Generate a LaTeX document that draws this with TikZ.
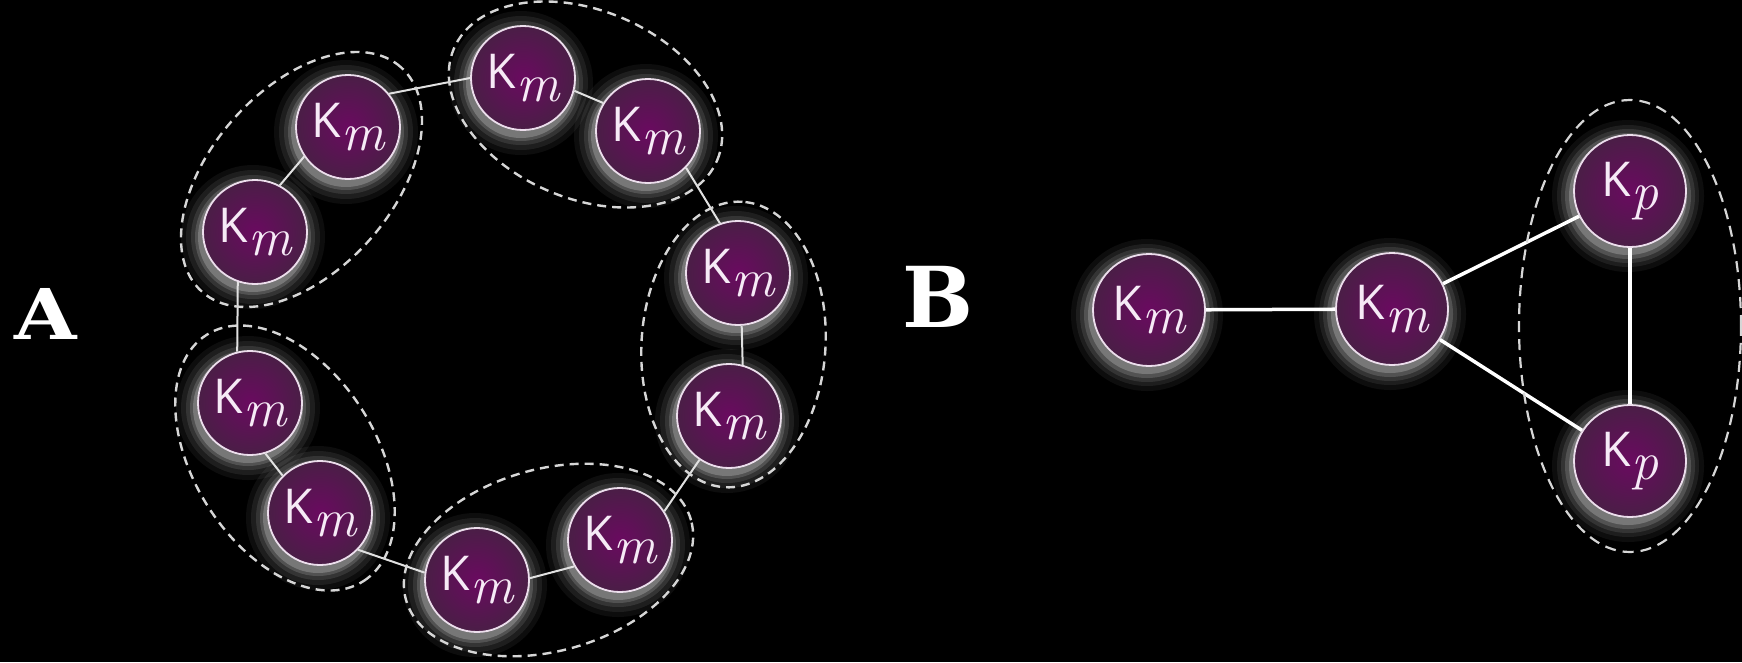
\documentclass[tikz,border=0pt]{standalone}
\usepackage{fontspec}
\newfontfamily\ksans{Open Sans}
\newfontfamily\labfont{DejaVu Serif}
\usetikzlibrary{calc}
\pgfdeclarelayer{back}
\pgfdeclarelayer{glow}
\pgfsetlayers{back,glow,main}
\definecolor{nodein}{RGB}{106,10,96}
\definecolor{nodeout}{RGB}{74,30,70}
\definecolor{rim}{RGB}{236,222,236}
\definecolor{txt}{RGB}{246,234,246}
\definecolor{dashc}{RGB}{214,214,214}
\definecolor{ringc}{RGB}{225,225,225}
\newcommand\kfont{\fontsize{48}{52}\selectfont}
\newcommand\subfont{\fontsize{54}{56}\selectfont\rmfamily\itshape}
\newcommand\KM{{\ksans K}\raisebox{-13pt}{\subfont m}}
\newcommand\KP{{\ksans K}\raisebox{-13pt}{\subfont p}}
\tikzset{
  km/.style={circle, inner sep=0pt, minimum size=104pt, draw=rim, line width=1.8pt,
    inner color=nodein, outer color=nodeout, text=txt, font=\kfont},
  kb/.style={km, minimum size=112pt},
  ringlink/.style={draw=ringc, line width=2pt},
  blink/.style={draw=white, line width=3.5pt},
  grp/.style={draw=dashc, line width=2.4pt, dash pattern=on 9pt off 6pt},
  grpb/.style={draw=dashc, line width=2.2pt, dash pattern=on 11pt off 7pt},
  lab/.style={inner sep=0pt, text=white},
}
\begin{document}
\begin{tikzpicture}[x=1pt,y=-1pt]
\begin{pgfonlayer}{back}
\fill[black] (0,0) rectangle (1742,662);
\end{pgfonlayer}
\useasboundingbox (0,0) rectangle (1742,662);

% labels
\node[lab] (labA) at (46,314) {\labfont\bfseries\fontsize{70}{72}\selectfont\scalebox{1.15}[1]{A}};
\node[lab] (labB) at (938,297) {\labfont\bfseries\fontsize{84}{88}\selectfont B};

% ring A
\node[km] (n1) at (348,127) {\KM};
\node[km] (n2) at (255,232) {\KM};
\node[km] (n3) at (523,78) {\KM};
\node[km] (n4) at (648,131) {\KM};
\node[km] (n5) at (738,273) {\KM};
\node[km] (n6) at (729,416) {\KM};
\node[km] (n7) at (620,540) {\KM};
\node[km] (n8) at (477,580) {\KM};
\node[km] (n9) at (320,513) {\KM};
\node[km] (n10) at (250,403) {\KM};

\draw[ringlink] (n2.62) -- (n1.214);
\draw[ringlink] (n1.39) -- (n3.180);
\draw[ringlink] (n3.-14) -- (n4.148);
\draw[ringlink] (n4.-44) -- (n5.110);
\draw[ringlink] (n5.-86) -- (n6.75);
\draw[ringlink] (n6.236) -- (n7.33);
\draw[ringlink] (n7.210) -- (n8.2);
\draw[ringlink] (n8.172) -- (n9.-44);
\draw[ringlink] (n9.135) -- (n10.-73);
\draw[ringlink] (n10.104) -- (n2.251);

\coordinate (m1) at ($(n1)!0.5!(n2)$);
\coordinate (m2) at ($(n3)!0.5!(n4)$);
\coordinate (m3) at ($(n5)!0.5!(n6)$);
\coordinate (m4) at ($(n7)!0.5!(n8)$);
\coordinate (m5) at ($(n9)!0.5!(n10)$);
\draw[grp, shift={(m1)}, rotate=48.5] (0,0) ellipse [x radius=150pt, y radius=91pt];
\draw[grp, shift={(m2)}, rotate=-23] (0,0) ellipse [x radius=143pt, y radius=94pt];
\draw[grp, shift={(m3)}, rotate=86.4] (0,0) ellipse [x radius=143pt, y radius=92pt];
\draw[grp, shift={(m4)}, rotate=15.6] (0,0) ellipse [x radius=148pt, y radius=91pt];
\draw[grp, shift={(m5)}, rotate=-57.5] (0,0) ellipse [x radius=146pt, y radius=91pt];

% part B
\node[kb] (bl) at (1149,310) {\KM};
\node[kb] (bm) at (1392,309) {\KM};
\node[kb] (pt) at (1630,191) {\KP};
\node[kb] (pb) at (1630,461) {\KP};
\draw[blink] (bl) -- (bm);
\draw[blink] (bm) -- (pt);
\draw[blink] (bm) -- (pb);
\draw[blink] (pt) -- (pb);
\coordinate (mp) at ($(pt)!0.5!(pb)$);
\draw[grpb, shift={(mp)}] (0,0) ellipse [x radius=111pt, y radius=226pt];

% glow
\begin{pgfonlayer}{glow}
\foreach \i in {1,...,10}{
  \foreach \r/\o in {72/0.05,67/0.07,62/0.10,58/0.15,55/0.22}{
    \fill[white, opacity=\o] ([shift={(-2,5)}]n\i.center) circle [radius=\r pt];
  }
}
\foreach \n in {bl,bm,pt,pb}{
  \foreach \r/\o in {76/0.05,71/0.07,67/0.10,63/0.15,59/0.22}{
    \fill[white, opacity=\o] ([shift={(-2,5)}]\n.center) circle [radius=\r pt];
  }
}
\end{pgfonlayer}
\end{tikzpicture}
\end{document}
